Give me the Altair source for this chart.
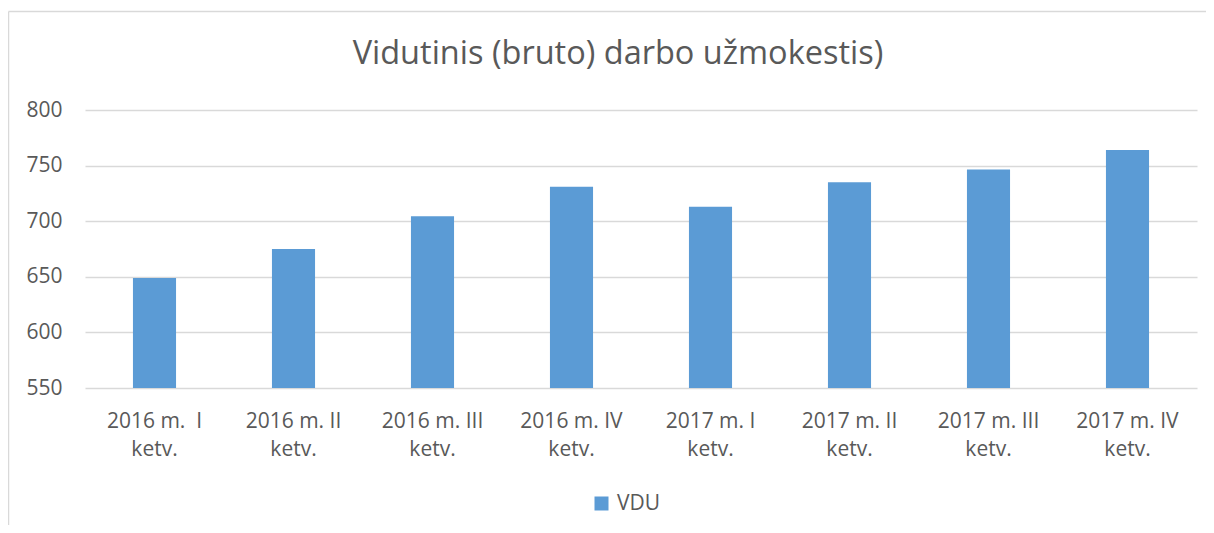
import altair as alt
import pandas as pd

categories = [
    "2016 m.\u00a0 I\nketv.",
    "2016 m. II\nketv.",
    "2016 m. III\nketv.",
    "2016 m. IV\nketv.",
    "2017 m. I\nketv.",
    "2017 m. II\nketv.",
    "2017 m. III\nketv.",
    "2017 m. IV\nketv.",
]
vdu = [649, 675, 704.5, 731, 713, 735, 746.5, 764]
series_name = "VDU"
y_ticks = [550, 600, 650, 700, 750, 800]
title_text = "Vidutinis (bruto) darbo užmokestis)"

df = pd.DataFrame({"ketvirtis": categories, "value": vdu, "series": [series_name] * len(vdu)})

FONT = "Open Sans"
GRAY = "#595959"
BLUE = "#5B9BD5"
LINE = "#D9D9D9"

bars = alt.Chart(df).mark_bar(color=BLUE).encode(
    x=alt.X(
        "ketvirtis:N",
        sort=categories,
        title=None,
        scale=alt.Scale(paddingInner=0.69, paddingOuter=0.345),
        axis=alt.Axis(
            labelAngle=0,
            labelExpr="split(datum.label, '\\n')",
            labelFont=FONT,
            labelFontSize=21,
            labelColor=GRAY,
            labelLineHeight=28.5,
            labelPadding=22,
            domain=False,
            ticks=False,
            grid=False,
        ),
    ),
    y=alt.Y(
        "value:Q",
        title=None,
        scale=alt.Scale(domain=[550, 800], nice=False, zero=False),
        axis=alt.Axis(
            values=y_ticks,
            labelFont=FONT,
            labelFontSize=21,
            labelColor=GRAY,
            labelPadding=23,
            domain=False,
            ticks=False,
            grid=True,
            gridColor=LINE,
            gridWidth=1.3,
        ),
    ),
    y2=alt.datum(550),
    fill=alt.Fill(
        "series:N",
        scale=alt.Scale(domain=[series_name], range=[BLUE]),
        legend=alt.Legend(
            title=None,
            orient="none",
            legendX=506,
            legendY=383,
            symbolType="square",
            symbolSize=196,
            symbolStrokeWidth=0,
            labelFont=FONT,
            labelFontSize=21,
            labelColor=GRAY,
            labelOffset=5,
            padding=0,
        ),
    ),
)

frame_data = alt.Data(values=[{"k": 1}])
left_line = alt.Chart(frame_data).mark_rule(color=LINE, strokeWidth=1.5).encode(
    x=alt.value(-76.5), y=alt.value(-98.5), y2=alt.value(430)
)
top_line = alt.Chart(frame_data).mark_rule(color=LINE, strokeWidth=1.5).encode(
    x=alt.value(-76.5), x2=alt.value(1140), y=alt.value(-98.5)
)

chart = (
    alt.layer(left_line, top_line, bars)
    .properties(
        width=1112,
        height=278,
        autosize=alt.AutoSizeParams(type="none"),
        padding={"left": 77, "top": 102, "right": 9, "bottom": 137},
        title=alt.TitleParams(
            title_text,
            font=FONT,
            fontSize=32.5,
            fontWeight="normal",
            color=GRAY,
            anchor="middle",
            baseline="alphabetic",
            offset=-86,
            dx=-23,
        ),
    )
    .configure_view(stroke=None)
)

chart.save("out.html", embed_options={"renderer": "svg", "actions": False})
